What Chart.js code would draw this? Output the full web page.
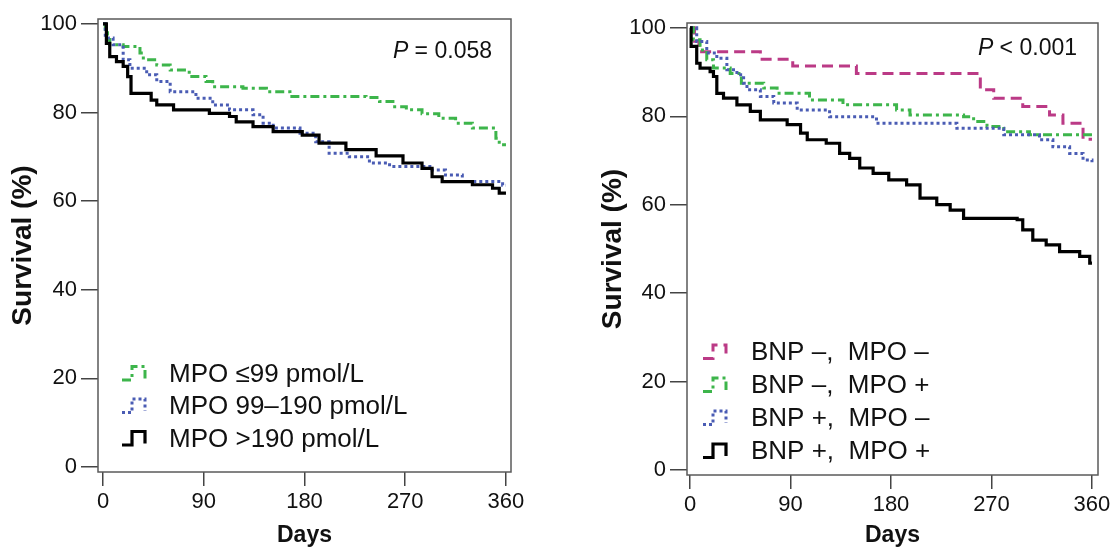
<!DOCTYPE html>
<html><head><meta charset="utf-8">
<script src="https://cdn.jsdelivr.net/npm/chart.js@4.4.1/dist/chart.umd.min.js"></script>
<style>
html,body{margin:0;padding:0;background:#fff;width:1115px;height:551px;overflow:hidden}
.panel{position:absolute;top:0;height:551px}
#p1{left:0;width:557px}
#p2{left:557px;width:558px}
</style></head><body>
<div class="panel" id="p1"><canvas id="c1"></canvas></div>
<div class="panel" id="p2"><canvas id="c2"></canvas></div>
<script>
// ---- tick labels ----
const xTicks = [0, 90, 180, 270, 360];
const yTicks = [0, 20, 40, 60, 80, 100];

// ---- left panel: MPO tertiles ----
const leftLabels = ['MPO \u226499 pmol/L', 'MPO 99\u2013190 pmol/L', 'MPO >190 pmol/L'];
const leftPText = '= 0.058';

const daysMpoLow = [0, 2, 4, 6, 18, 33, 36, 48, 60, 77, 92, 98, 125, 146, 167, 235, 247, 259, 271, 285, 300, 315, 330, 351, 354, 360];
const survMpoLow = [100, 98, 96.5, 95.3, 94.9, 93.4, 91.9, 90.7, 89.6, 88.1, 87.0, 85.8, 85.5, 84.7, 83.6, 83.4, 82.5, 81.3, 80.6, 79.7, 78.7, 77.6, 76.5, 74.2, 72.7, 72.7];

const daysMpoMid = [0, 2, 9, 18, 24, 39, 48, 60, 83, 98, 113, 134, 143, 152, 176, 190, 202, 220, 238, 256, 294, 306, 321, 357, 360];
const survMpoMid = [100, 96.8, 95.3, 91.9, 90, 88.5, 87, 84.7, 83.2, 81.7, 80.6, 79.5, 77.6, 76.5, 75.3, 73.4, 70.8, 70, 68.6, 67.8, 67, 65.9, 64.4, 63.6, 63.6];

const daysMpoHigh = [0, 3, 6, 12, 18, 22, 25, 43, 48, 63, 95, 113, 119, 134, 152, 178, 193, 217, 244, 268, 285, 294, 303, 330, 348, 354, 360];
const survMpoHigh = [100, 95.6, 92.6, 91.5, 90.4, 88.1, 84.3, 82.8, 81.7, 80.6, 79.8, 79.1, 77.9, 76.8, 75.7, 74.9, 73.1, 71.6, 70.2, 68.6, 67.4, 65.5, 64.4, 63.7, 62.9, 61.8, 61.8];

// ---- right panel: BNP / MPO combinations ----
const rightLabels = ['BNP \u2013,  MPO \u2013', 'BNP \u2013,  MPO +', 'BNP +,  MPO \u2013', 'BNP +,  MPO +'];
const rightPText = '< 0.001';

const daysBnpNegMpoNeg = [0, 4, 8, 63, 92, 149, 260, 272, 298, 322, 334, 352, 360];
const survBnpNegMpoNeg = [100, 97, 94.6, 92.9, 91.4, 89.7, 86, 84.1, 82.2, 80.3, 78.4, 74.8, 74.8];

const daysBnpNegMpoPos = [0, 3, 9, 15, 21, 36, 46, 66, 78, 107, 137, 185, 197, 245, 254, 266, 281, 304, 360];
const survBnpNegMpoPos = [100, 97.3, 95, 92.8, 90.9, 89.7, 87.5, 86.4, 85.2, 83.7, 82.6, 81.4, 80.3, 79.9, 78.8, 77.7, 76.5, 75.8, 75.8];

const daysBnpPosMpoNeg = [0, 6, 15, 24, 33, 42, 48, 51, 63, 75, 96, 125, 167, 239, 281, 313, 325, 340, 352, 360];
const survBnpPosMpoNeg = [100, 96.9, 94.3, 93.1, 90.5, 89.4, 87.5, 86, 84.5, 83, 81.4, 79.9, 78.4, 77.3, 75.8, 74.7, 73.1, 71.6, 70.1, 69.6];

const daysBnpPosMpoPos = [0, 1, 6, 9, 18, 21, 24, 30, 42, 54, 63, 87, 99, 105, 122, 134, 143, 152, 164, 178, 194, 206, 221, 233, 245, 293, 298, 307, 319, 331, 349, 358, 360];
const survBnpPosMpoPos = [100, 95.8, 92, 90.9, 90.1, 89, 85.2, 84.1, 82.6, 81.1, 79.2, 78.1, 76.2, 74.7, 73.9, 71.6, 70.5, 68.3, 67.1, 65.6, 64.5, 61.5, 60, 58.8, 56.9, 56.6, 54.3, 52, 50.9, 49.4, 48.3, 46.8, 46.8];

// ---- styling ----
const FONT = '"Liberation Sans", Arial, Helvetica, sans-serif';
const GREEN = '#3db54b', BLUE = '#4a5cb4', MAGENTA = '#bb3a86', BLACK = '#000000';

function pts(days, surv) { return days.map((d, i) => ({ x: d, y: surv[i] })); }
function ds(label, days, surv, color, dash, width, order) {
  return { label, data: pts(days, surv), borderColor: color, borderDash: dash, borderWidth: width,
           stepped: true, pointRadius: 0, fill: false, borderCapStyle: 'butt', borderJoinStyle: 'miter', order };
}

const overlay = {
  id: 'overlay',
  afterDraw(chart, args, o) {
    const { ctx, chartArea: a } = chart;
    ctx.save();
    ctx.strokeStyle = '#5a5a5a'; ctx.lineWidth = 1.5; ctx.setLineDash([]);
    ctx.strokeRect(a.left, a.top, a.right - a.left, a.bottom - a.top);
    // P value
    const f = '23px ' + FONT;
    ctx.fillStyle = '#111'; ctx.textBaseline = 'alphabetic'; ctx.textAlign = 'left';
    ctx.font = f; const restW = ctx.measureText(' ' + o.pRest).width;
    ctx.font = 'italic ' + f; const pW = ctx.measureText('P').width;
    const x0 = o.pRight - restW - pW;
    ctx.fillText('P', x0, o.pBase);
    ctx.font = f; ctx.fillText(' ' + o.pRest, x0 + pW, o.pBase);
    // legend
    const order = o.legendOrder;
    order.forEach((di, r) => {
      const d = chart.data.datasets[di];
      const b = o.legY + r * o.legStep;
      const sx = o.symX;
      ctx.beginPath();
      ctx.strokeStyle = d.borderColor; ctx.lineWidth = d.borderWidth;
      ctx.setLineDash(d.borderDash || []);
      ctx.moveTo(sx, b - 1.5); ctx.lineTo(sx + 10, b - 1.5); ctx.lineTo(sx + 10, b - 15);
      ctx.lineTo(sx + 23, b - 15); ctx.lineTo(sx + 23, b - 3);
      ctx.stroke();
      ctx.setLineDash([]);
      ctx.fillStyle = '#111'; ctx.font = '26px ' + FONT;
      ctx.fillText(d.label, o.textX, b);
    });
    ctx.restore();
  }
};

function makeChart(id, datasets, cfg) {
  return new Chart(document.getElementById(id), {
    type: 'line',
    data: { datasets },
    plugins: [overlay],
    options: {
      responsive: true, maintainAspectRatio: false, animation: false,
      layout: { padding: { left: 0, top: cfg.top, right: cfg.right, bottom: 0 } },
      plugins: { legend: { display: false }, tooltip: { enabled: false }, overlay: cfg.overlay },
      scales: {
        x: {
          type: 'linear', min: cfg.xMin, max: cfg.xMax,
          afterBuildTicks: s => { s.ticks = xTicks.map(v => ({ value: v })); },
          afterFit: s => { s.height = cfg.xH; },
          grid: { display: true, drawOnChartArea: false, drawTicks: true, tickLength: 14, color: '#444', lineWidth: 1.5 },
          border: { display: false },
          ticks: { color: '#111', font: { family: FONT, size: 22 }, padding: 3, maxRotation: 0 },
          title: { display: true, text: 'Days', color: '#111', font: { family: FONT, size: 23, weight: 'bold' }, padding: { top: 0, bottom: 2 } }
        },
        y: {
          type: 'linear', min: -1.13, max: 101.1,
          afterBuildTicks: s => { s.ticks = yTicks.map(v => ({ value: v })); },
          afterFit: s => { s.width = cfg.yW; },
          grid: { display: true, drawOnChartArea: false, drawTicks: true, tickLength: 17, color: '#444', lineWidth: 1.5 },
          border: { display: false },
          ticks: { color: '#111', font: { family: FONT, size: 22 }, padding: 4 },
          title: { display: true, text: 'Survival (%)', color: '#111', font: { family: FONT, size: 28, weight: 'bold' }, padding: { top: cfg.yTitlePad, bottom: 0 } }
        }
      }
    }
  });
}

makeChart('c1', [
  ds(leftLabels[0], daysMpoLow, survMpoLow, GREEN, [9, 4, 3, 4], 3, 3),
  ds(leftLabels[1], daysMpoMid, survMpoMid, BLUE, [3, 3], 3, 2),
  ds(leftLabels[2], daysMpoHigh, survMpoHigh, BLACK, [], 3.2, 1)
], { top: 19, right: 46, xH: 79, yW: 98, xMin: -4.5, xMax: 364.5, yTitlePad: 6,
     overlay: { pRest: leftPText, pRight: 492, pBase: 58, legendOrder: [0, 1, 2], legY: 381.5, legStep: 32.5, symX: 122, textX: 169 } });

makeChart('c2', [
  ds(rightLabels[0], daysBnpNegMpoNeg, survBnpNegMpoNeg, MAGENTA, [11, 6], 3, 4),
  ds(rightLabels[1], daysBnpNegMpoPos, survBnpNegMpoPos, GREEN, [9, 4, 3, 4], 3, 3),
  ds(rightLabels[2], daysBnpPosMpoNeg, survBnpPosMpoNeg, BLUE, [3, 3], 3, 2),
  ds(rightLabels[3], daysBnpPosMpoPos, survBnpPosMpoPos, BLACK, [], 3.2, 1)
], { top: 23, right: 17, xH: 76, yW: 130, xMin: -2.7, xMax: 365.4, yTitlePad: 39,
     overlay: { pRest: rightPText, pRight: 520, pBase: 55, legendOrder: [0, 1, 2, 3], legY: 360, legStep: 33, symX: 146, textX: 194 } });
</script>
</body></html>
